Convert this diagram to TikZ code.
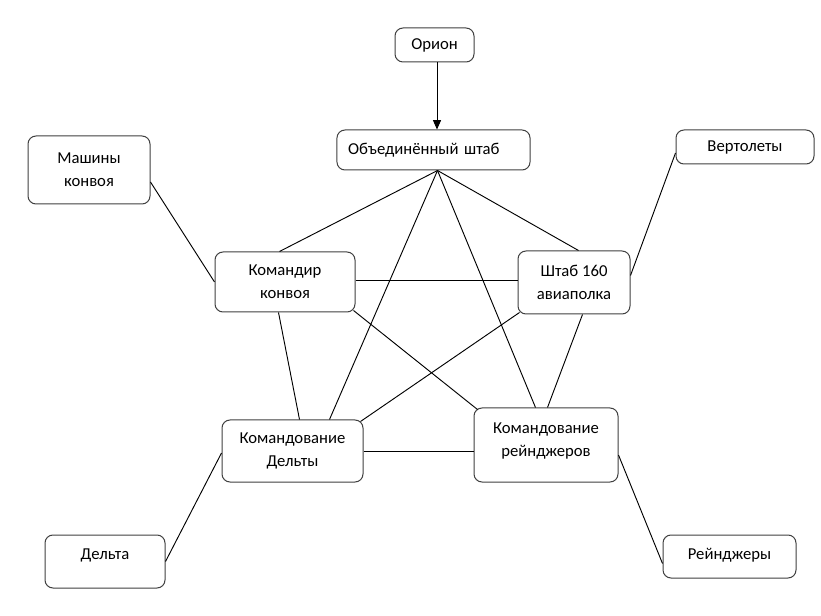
\documentclass[tikz,border=0pt]{standalone}
\usepackage{fontspec}
\setmainfont{Carlito}
\usetikzlibrary{calc,arrows.meta}
\begin{document}
\begin{tikzpicture}[x=0.75pt,y=-0.75pt,
  box/.style={draw=black!75,line width=0.75pt,rounded corners=6pt,fill=white,
    inner sep=2pt,align=center,font=\fontsize{12.5}{17.25}\selectfont},
  link/.style={draw=black,line width=0.7pt}]
\useasboundingbox (0,0) rectangle (821,616);
\node[box,minimum width=59.25pt,minimum height=25.5pt] (orion) at (434.5,45) {Орион};
\node[box,minimum width=144.75pt,minimum height=30pt,text width=128pt,inner xsep=8.4pt,align=left] (obj) at (433.5,150) {Объединённый штаб};
\node[box,minimum width=91.5pt,minimum height=51pt] (mash) at (89,170) {Машины\\конвоя};
\node[box,minimum width=105pt,minimum height=45pt] (kk) at (285,282) {Командир\\конвоя};
\node[box,minimum width=103.5pt,minimum height=25.5pt] (vert) at (745,147) {Вертолеты};
\node[box,minimum width=84pt,minimum height=47.25pt] (shtab) at (574,282.5) {Штаб 160\\авиаполка};
\node[box,minimum width=105.75pt,minimum height=46.5pt] (kd) at (292.5,451) {Командование\\Дельты};
\node[box,minimum width=108pt,minimum height=55.5pt,text depth=8.5pt] (kr) at (546,445) {Командование\\рейнджеров};
\node[box,minimum width=90pt,minimum height=39.75pt,text depth=11.5pt] (delta) at (105,561.5) {Дельта};
\node[box,minimum width=99.75pt,minimum height=32.25pt,text depth=4.5pt] (rang) at (729.5,556.5) {Рейнджеры};
% arrow
\coordinate (A) at ($(orion.south)+(2.5,0)$);
\draw[link,-{Triangle[length=7pt,width=6pt]}] (A) -- (A |- obj.north);
% fan from joint HQ
\coordinate (F) at ($(obj.south)+(4,0)$);
\draw[link] (F) -- ($(kk.north west)+(65,0)$);
\draw[link] (F) -- ($(shtab.north west)+(61,0)$);
\draw[link] (F) -- ($(kd.north west)+(108,0)$);
\draw[link] (F) -- ($(kr.north west)+(62,0)$);
% others
\draw[link] ($(mash.east)+(0,12)$) -- (kk.west);
\coordinate (H) at ($(kk.east)+(0,-2)$);
\draw[link] (H) -- (H -| shtab.west);
\draw[link] ($(kk.south east)+(-2,-2)$) -- ($(kr.north west)+(4,2)$);
\draw[link] ($(kk.south west)+(64,0)$) -- ($(kd.north west)+(78,0)$);
\draw[link] ($(shtab.south west)+(2,-2)$) -- ($(kd.north east)+(-3,2)$);
\draw[link] ($(shtab.south west)+(65,0)$) -- ($(kr.north west)+(74,0)$);
\draw[link] (kd.east) -- (kd.east -| kr.west);
\draw[link] ($(vert.west)+(0,6)$) -- ($(shtab.east)+(0,-7)$);
\draw[link] (delta.east) -- ($(kd.west)+(0,2)$);
\draw[link] ($(kr.east)+(0,10)$) -- ($(rang.west)+(0,7)$);
\end{tikzpicture}
\end{document}
